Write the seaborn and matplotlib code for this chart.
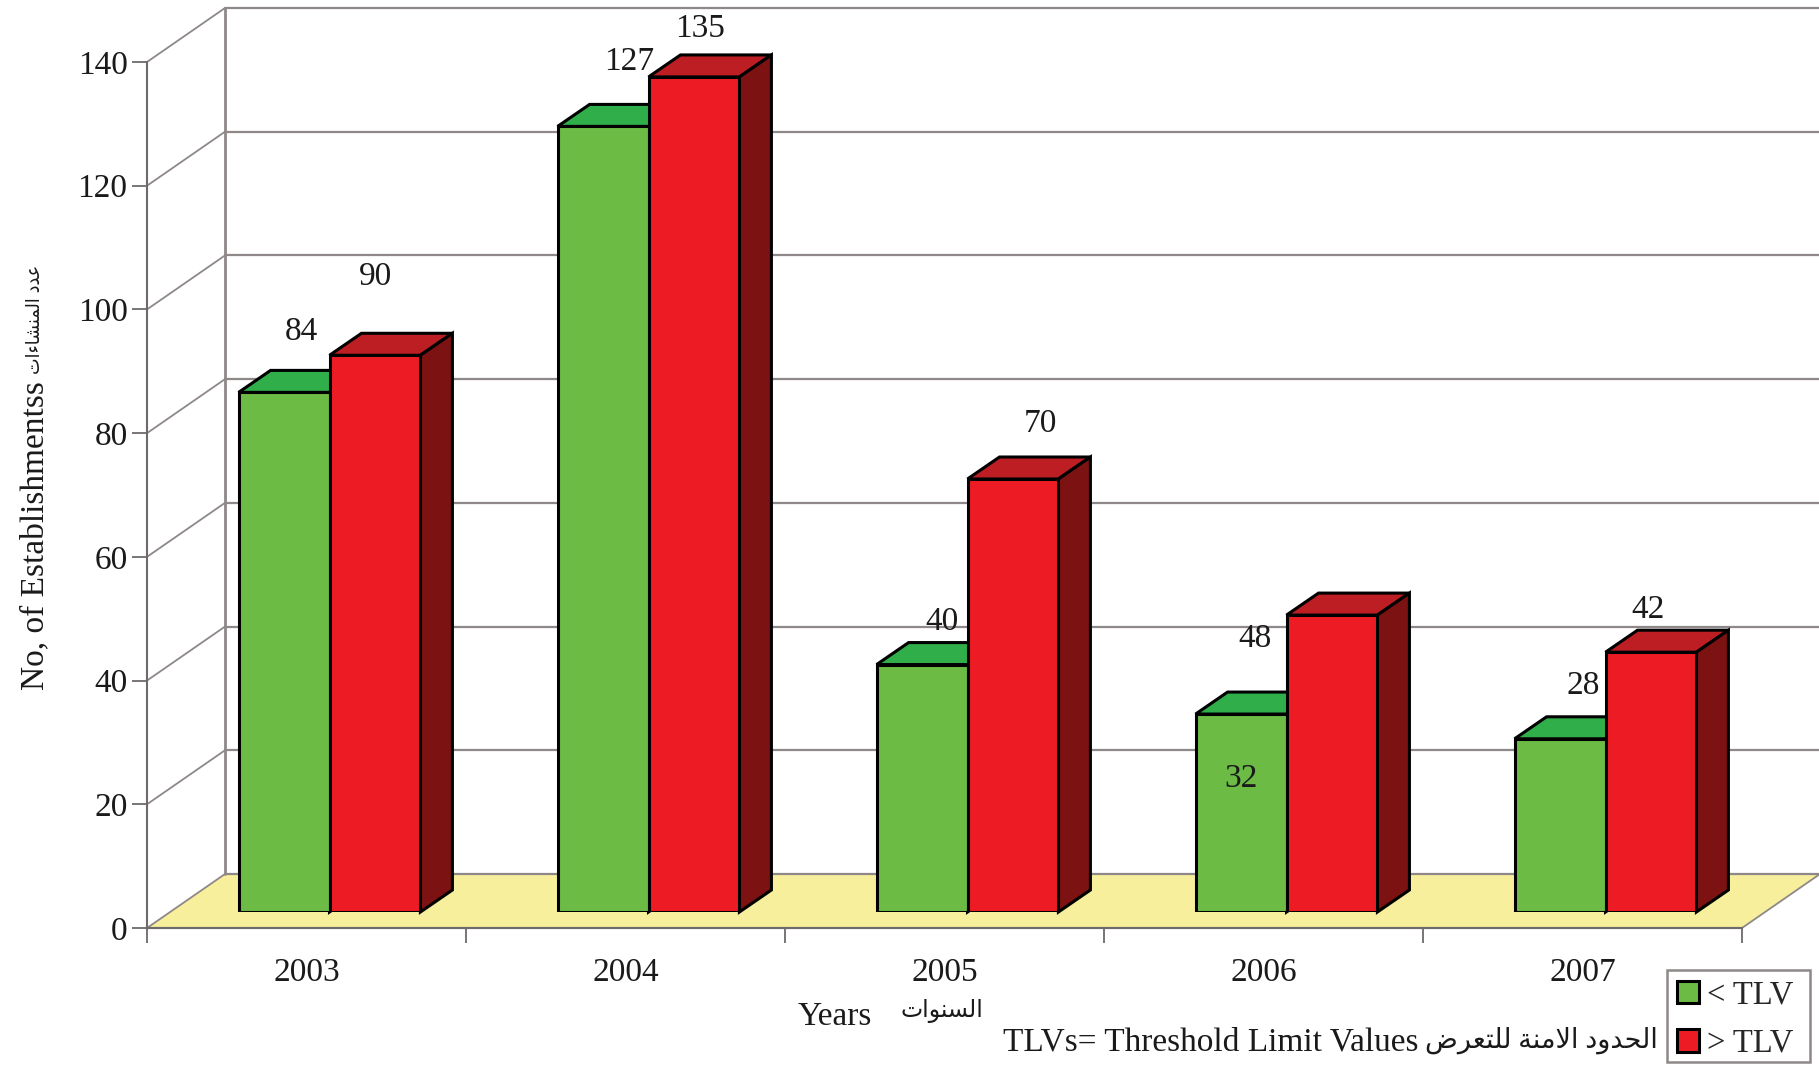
import matplotlib
matplotlib.use("Agg")
import matplotlib.pyplot as plt
import pandas as pd
import seaborn as sns
from matplotlib.patches import Polygon, Rectangle

# ============================================================
# Data
# ============================================================
years = ["2003", "2004", "2005", "2006", "2007"]
below_tlv = [84, 127, 40, 32, 28]
above_tlv = [90, 135, 70, 48, 42]
y_ticks = [0, 20, 40, 60, 80, 100, 120, 140]

# label nudges in pixels, the labels sit loosely around the bars
below_nudge = [(17, 61), (26, 65), (20, 43), (0, -65), (23, 53)]
above_nudge = [(1, 79), (6, 48), (27, 55), (-77, -24), (-3, 42)]

W, H = 1819, 1065
GREEN, RED = "#6cbb45", "#ed1c24"
GREEN_TOP, RED_TOP = "#2fae4a", "#bc1e24"
RED_SIDE, GREEN_SIDE = "#7d1212", "#2e6b1c"
GRID = "#8f8888"
AXIS = "#6f6a6a"
FLOOR = "#f8ef9c"
INK = "#1a1a1a"
SERIF = ["Liberation Serif", "DejaVu Sans"]


# ============================================================
# Helper: matplotlib does no Arabic shaping, so pick joined forms
# ============================================================
FORMS = {
    "ا": (0xFE8D, 0xFE8E, None, None), "ء": (0xFE80, None, None, None),
    "ت": (0xFE95, 0xFE96, 0xFE97, 0xFE98), "ة": (0xFE93, 0xFE94, None, None),
    "ح": (0xFEA1, 0xFEA2, 0xFEA3, 0xFEA4), "د": (0xFEA9, 0xFEAA, None, None),
    "ر": (0xFEAD, 0xFEAE, None, None), "س": (0xFEB1, 0xFEB2, 0xFEB3, 0xFEB4),
    "ش": (0xFEB5, 0xFEB6, 0xFEB7, 0xFEB8), "ض": (0xFEBD, 0xFEBE, 0xFEBF, 0xFEC0),
    "ع": (0xFEC9, 0xFECA, 0xFECB, 0xFECC), "ل": (0xFEDD, 0xFEDE, 0xFEDF, 0xFEE0),
    "م": (0xFEE1, 0xFEE2, 0xFEE3, 0xFEE4), "ن": (0xFEE5, 0xFEE6, 0xFEE7, 0xFEE8),
    "و": (0xFEED, 0xFEEE, None, None),
}


def shape(text):
    out = []
    joined = False
    i = 0
    while i < len(text):
        c = text[i]
        if c not in FORMS:
            out.append(c)
            joined = False
            i += 1
            continue
        if c == "ل" and text[i + 1:i + 2] == "ا":
            out.append(chr(0xFEFC if joined else 0xFEFB))
            joined = False
            i += 2
            continue
        nxt = text[i + 1:i + 2]
        forms = FORMS[c]
        can_join_next = forms[2] is not None and nxt in FORMS
        if joined and can_join_next:
            code = forms[3]
        elif joined and forms[1] is not None:
            code = forms[1]
        elif can_join_next:
            code = forms[2]
        else:
            code = forms[0]
        out.append(chr(code))
        joined = can_join_next
        i += 1
    return "".join(reversed(out))


def px_axes(left, top, right, bottom, **kw):
    return fig.add_axes([left / W, 1 - bottom / H, (right - left) / W, (bottom - top) / H], **kw)


def px_text(x, y, s, **kw):
    fig.text(x / W, 1 - y / H, s, color=INK, family=SERIF, va="center", **kw)


df = pd.DataFrame({
    "Year": years * 2,
    "Count": below_tlv + above_tlv,
    "Group": ["< TLV"] * 5 + ["> TLV"] * 5,
})

sns.set_theme(style="white")
plt.rcParams["font.family"] = SERIF
fig = plt.figure(figsize=(W / 100, H / 100), dpi=100, facecolor="white")

# frame axes: front edge of the chart, owns ticks and labels
frame = px_axes(147, 62, 1742, 928)
frame.set_xlim(-0.5, 4.5)
frame.set_ylim(0, 140)
frame.patch.set_alpha(0)
for s in ["top", "right"]:
    frame.spines[s].set_visible(False)
for s in ["left", "bottom"]:
    frame.spines[s].set_color(AXIS)
    frame.spines[s].set_linewidth(1.5)
frame.set_yticks(y_ticks)
frame.set_xticks(range(5))
frame.set_xticklabels(years)
frame.set_xticks([i - 0.5 for i in range(6)], minor=True)
frame.tick_params(axis="y", length=11, width=1.3, color=AXIS, labelsize=24, pad=3,
                  labelcolor=INK, left=True)
frame.tick_params(axis="x", which="minor", length=11, width=1.3, color=AXIS, bottom=True)
frame.tick_params(axis="x", which="major", length=0, labelsize=24, pad=21, labelcolor=INK)

# depth of the fake 3D box, in frame data units
wall_dx = 78 / (1595 / 5)
wall_dy = 54 / (866 / 140)


def depth_line(x, y, **kw):
    frame.plot([x, x + wall_dx], [y, y + wall_dy], clip_on=False, solid_capstyle="round", **kw)


frame.add_patch(Polygon([(-0.5, 0), (-0.5 + wall_dx, wall_dy), (4.5 + wall_dx, wall_dy), (4.5, 0)],
                        closed=True, facecolor=FLOOR, edgecolor="none", clip_on=False, zorder=0.5))
for v in y_ticks:
    depth_line(-0.5, v, color=GRID, lw=1.3, zorder=1)
    frame.plot([-0.5 + wall_dx, 4.5 + wall_dx], [v + wall_dy] * 2, color=GRID, lw=1.6,
               clip_on=False, zorder=1)
depth_line(4.5, 0, color=GRID, lw=1.3, zorder=1)
frame.plot([-0.5 + wall_dx] * 2, [wall_dy, 140 + wall_dy], color=GRID, lw=2, clip_on=False, zorder=1)
frame.plot([-0.5, 4.5], [0, 0], color=AXIS, lw=1.5, clip_on=False, zorder=1.2)

frame.set_ylabel("No, of Establishmentss", fontsize=24, color=INK, va="center")
frame.yaxis.set_label_coords(-0.0702, 0.4535, transform=frame.transAxes)
frame.set_xlabel("Years", fontsize=24, color=INK, va="center")
frame.xaxis.set_label_coords(0.431, -0.1028, transform=frame.transAxes)
px_text(35, 319, shape("عدد المنشاءات"), fontsize=14, rotation=90, ha="center", stretch="condensed")
px_text(900, 1011, shape("السنوات"), fontsize=17, ha="left")
px_text(1003, 1042, "TLVs= Threshold Limit Values", fontsize=24, ha="left")
px_text(1658, 1040, shape("الحدود الامنة للتعرض"), fontsize=19.5, ha="right")

# ============================================================
# Bars: seaborn draws the front faces on a slightly shifted axes
# ============================================================
ax = px_axes(170, 46, 1765, 912)
sns.barplot(data=df, x="Year", y="Count", hue="Group", order=years, hue_order=["< TLV", "> TLV"],
            palette=[GREEN, RED], width=0.57, gap=0, errorbar=None, edgecolor="black",
            linewidth=2.2, ax=ax, legend=False, zorder=3, saturation=1)
ax.set_xlim(-0.5, 4.5)
ax.set_ylim(0, 140)
ax.axis("off")
ax.patch.set_alpha(0)

bar_dx = 32 / (1595 / 5)
bar_dy = 22 / (866 / 140)
n = len(years)
for j, bar in enumerate(ax.patches[:2 * n]):
    x0, w, h = bar.get_x(), bar.get_width(), bar.get_height()
    is_red = j >= n
    top_c = RED_TOP if is_red else GREEN_TOP
    side_c = RED_SIDE if is_red else GREEN_SIDE
    z = 2.5 if is_red else 2
    ax.add_patch(Polygon([(x0, h), (x0 + bar_dx, h + bar_dy), (x0 + w + bar_dx, h + bar_dy), (x0 + w, h)],
                         closed=True, facecolor=top_c, edgecolor="black", lw=2.2, zorder=z, clip_on=False))
    ax.add_patch(Polygon([(x0 + w, 0), (x0 + w + bar_dx, bar_dy), (x0 + w + bar_dx, h + bar_dy), (x0 + w, h)],
                         closed=True, facecolor=side_c, edgecolor="black", lw=2.2, zorder=z, clip_on=False))
    value = (above_tlv if is_red else below_tlv)[j % n]
    nudge = (above_nudge if is_red else below_nudge)[j % n]
    ax.annotate(str(value), (x0 + w / 2, h), xytext=nudge, textcoords="offset pixels",
                ha="center", va="center", fontsize=24, color=INK, zorder=5, annotation_clip=False)

# ============================================================
# Legend: separate frame so the box size can follow the reference
# ============================================================
fig.add_artist(Rectangle((1667 / W, 1 - 1062 / H), 143 / W, 92 / H, transform=fig.transFigure,
                         facecolor="white", edgecolor=GRID, lw=1.8))
handles = [Rectangle((0, 0), 1, 1, facecolor=GREEN, edgecolor="black", lw=2.2),
           Rectangle((0, 0), 1, 1, facecolor=RED, edgecolor="black", lw=2.2)]
fig.legend(handles, ["< TLV", "> TLV"], loc="lower left", bbox_to_anchor=(1677 / W, 1 - 1059 / H),
           frameon=False, borderpad=0, handlelength=0.67, handleheight=0.67, handletextpad=0.25,
           labelspacing=0.55, borderaxespad=0, prop={"family": SERIF, "size": 23.5})

fig.savefig("out.png", dpi=100)
